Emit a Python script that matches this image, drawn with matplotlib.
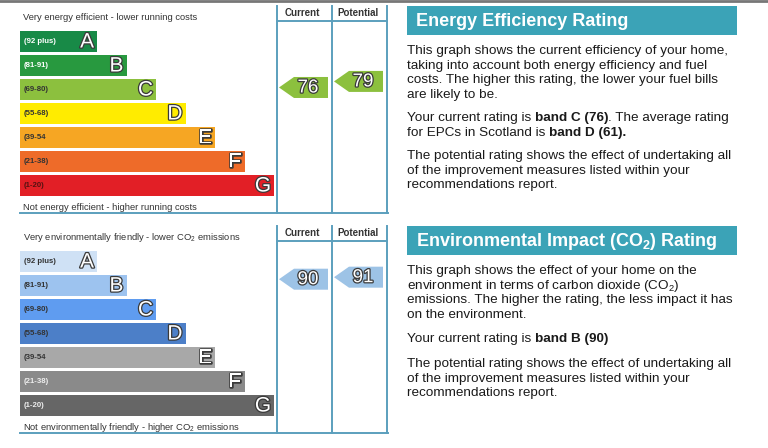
import matplotlib
matplotlib.use("Agg")
import matplotlib.pyplot as plt
import matplotlib.patheffects as pe
from matplotlib.patches import Rectangle, Polygon

plt.rcParams['font.family'] = ['Liberation Sans', 'DejaVu Sans']
plt.rcParams['mathtext.fontset'] = 'custom'
plt.rcParams['mathtext.rm'] = 'Liberation Sans'
plt.rcParams['mathtext.bf'] = 'Liberation Sans:bold'
plt.rcParams['mathtext.it'] = 'Liberation Sans:italic'

# data
bands = ['A', 'B', 'C', 'D', 'E', 'F', 'G']
ranges = ['(92 plus)', '(81-91)', '(69-80)', '(55-68)', '(39-54', '(21-38)', '(1-20)']
eer_colors = ['#188a47', '#28993f', '#8cc03e', '#ffec00', '#f6a623', '#ee6b29', '#e21f26']
eer_label_colors = ['white', 'white', '#333333', '#333333', '#333333', '#333333', '#551111']
eir_colors = ['#cfe1f5', '#9dc3ef', '#5f9cf0', '#4c7fc8', '#a8a8a8', '#8a8a8a', '#666666']
eir_label_colors = ['#333333', '#333333', '#333333', '#333333', '#333333', '#eeeeee', '#eeeeee']
eer_current, eer_potential = 76, 79
eir_current, eir_potential = 90, 91
eer_arrow_color = '#8cc03e'
eir_arrow_color = '#9dc3e6'

eer_title = 'Energy Efficiency Rating'
eir_title = r'Environmental Impact (CO$_\mathbf{2}$) Rating'
eer_top = 'Very energy efficient - lower running costs'
eer_bottom = 'Not energy efficient - higher running costs'
eir_top = r'Very environmentally friendly - lower CO$_2$ emissions'
eir_bottom = r'Not environmentally friendly - higher CO$_2$ emissions'

eer_paras = [
    [[('This graph shows the current efficiency of your home,', False)],
     [('taking into account both energy efficiency and fuel', False)],
     [('costs. The higher this rating, the lower your fuel bills', False)],
     [('are likely to be.', False)]],
    [[('Your current rating is ', False), ('band C (76)', True), ('. The average rating', False)],
     [('for EPCs in Scotland is ', False), ('band D (61).', True)]],
    [[('The potential rating shows the effect of undertaking all', False)],
     [('of the improvement measures listed within your', False)],
     [('recommendations report.', False)]],
]
eir_paras = [
    [[('This graph shows the effect of your home on the', False)],
     [('environment in terms of carbon dioxide (CO$_2$)', False)],
     [('emissions. The higher the rating, the less impact it has', False)],
     [('on the environment.', False)]],
    [[('Your current rating is ', False), ('band B (90)', True)]],
    [[('The potential rating shows the effect of undertaking all', False)],
     [('of the improvement measures listed within your', False)],
     [('recommendations report.', False)]],
]

fig = plt.figure(figsize=(7.68, 4.48), dpi=100)
ax = fig.add_axes([0, 0, 1, 1])
ax.set_xlim(0, 768)
ax.set_ylim(448, 0)
ax.axis('off')

frame = '#5b9fbd'
teal = '#3ba3b7'
outline = [pe.withStroke(linewidth=1.8, foreground='#3a3a3a')]

ax.plot([0, 768], [0.8, 0.8], color='#777777', lw=2)


def rating_y(v, y0):
    return y0 + 241 - 2.02 * v


def arrow(x0, yc, val, color):
    h = 21
    pts = [(x0, yc), (x0 + 15, yc - h / 2), (x0 + 49, yc - h / 2),
           (x0 + 49, yc + h / 2), (x0 + 15, yc + h / 2)]
    ax.add_patch(Polygon(pts, closed=True, facecolor=color, edgecolor='none'))
    ax.text(x0 + 29, yc + 0.5, str(val), fontsize=13.5, color='white', ha='center',
            va='center', path_effects=outline)


def chart(y0, colors, label_colors, top, bottom, cur, pot, acol):
    ax.text(23, y0 + 17, top, fontsize=6.75, color='#333333', va='center')
    ax.text(23, y0 + 207, bottom, fontsize=6.75, color='#333333', va='center')
    for i, b in enumerate(bands):
        w = 77 + i * 29.5
        yt = y0 + 31 + i * 24
        ax.add_patch(Rectangle((20, yt), w, 21, facecolor=colors[i], edgecolor='none'))
        ax.text(24, yt + 10.5, ranges[i], fontsize=5.6, fontweight='bold',
                color=label_colors[i], va='center')
        ax.text(20 + w - 3, yt + 11, b, fontsize=15, color='white', ha='right',
                va='center', path_effects=outline)
    for x in (277, 332, 387):
        ax.plot([x, x], [y0 + 6, y0 + 213], color=frame, lw=1.4)
    ax.plot([277, 387], [y0 + 21, y0 + 21], color=frame, lw=1.4)
    ax.plot([20, 388], [y0 + 213, y0 + 213], color=frame, lw=1.4)
    ax.text(302.5, y0 + 13.5, 'Current', fontsize=7, fontweight='bold',
            color='#333333', ha='center', va='center')
    ax.text(357.5, y0 + 13.5, 'Potential', fontsize=7, fontweight='bold',
            color='#333333', ha='center', va='center')
    arrow(279, rating_y(cur, y0), cur, acol)
    arrow(334, rating_y(pot, y0), pot, acol)


renderer = fig.canvas.get_renderer()
inv = ax.transData.inverted()


def write_line(x, y, parts):
    for s, bold in parts:
        t = ax.text(x, y, s, fontsize=9.7, color='#1a1a1a', va='baseline',
                    fontweight='bold' if bold else 'normal')
        bb = t.get_window_extent(renderer)
        x = inv.transform((bb.x1, bb.y0))[0]


def panel(y0, title, paras, starts):
    ax.add_patch(Rectangle((407, y0 + 6), 330, 29, facecolor=teal, edgecolor='none'))
    ax.text(416, y0 + 21, title, fontsize=13, fontweight='bold', color='white',
            va='center')
    for p, ys in zip(paras, starts):
        for j, line in enumerate(p):
            write_line(407, y0 + ys + j * 14.6, line)


chart(0, eer_colors, eer_label_colors, eer_top, eer_bottom, eer_current, eer_potential, eer_arrow_color)
chart(220, eir_colors, eir_label_colors, eir_top, eir_bottom, eir_current, eir_potential, eir_arrow_color)
panel(0, eer_title, eer_paras, [54, 121, 159])
panel(220, eir_title, eir_paras, [54, 122, 147])

fig.savefig('out.png', dpi=100)
